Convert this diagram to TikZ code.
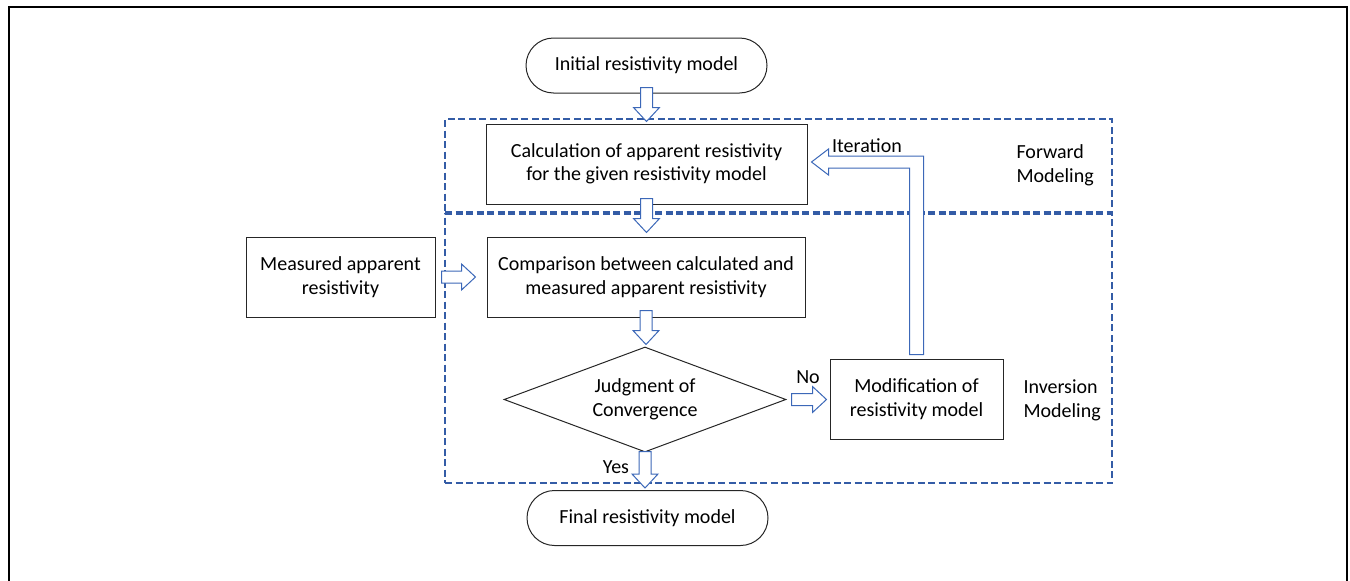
\documentclass[tikz,border=0pt]{standalone}
\usepackage{fontspec}
\setmainfont{Carlito}
\usetikzlibrary{shapes.geometric,shapes.misc,calc}
\definecolor{arrblue}{RGB}{60,104,184}
\definecolor{dashblue}{RGB}{52,92,166}
\tikzset{
  txt/.style={font=\fontsize{20}{23.5}\selectfont, align=center},
  procbox/.style={txt, draw=black!85, line width=1pt, rectangle, inner sep=0pt, minimum height=80pt},
  termbox/.style={txt, draw=black!85, line width=1pt, rounded rectangle, inner sep=0pt, minimum width=241pt, minimum height=55pt},
  decbox/.style={txt, draw=black!85, line width=1pt, diamond, inner sep=0pt, aspect=2.69, minimum width=282pt, minimum height=105pt},
  dashbox/.style={draw=dashblue, line width=1.1pt, dash pattern=on 7pt off 3.5pt},
  barrow/.style={draw=arrblue, fill=white, line width=1pt, line join=miter},
  lbl/.style={txt},
  sidelbl/.style={txt, align=left, anchor=west},
  frame/.style={draw=black, line width=2pt}
}
\newcommand\arrdn[2]{\draw[barrow] let \p1=(#1), \p2=(#2) in
  (\x1-6pt,\y1) -- (\x1+6pt,\y1) -- (\x1+6pt,\y2+14pt) -- (\x1+13pt,\y2+14pt) -- (\x1,\y2)
  -- (\x1-13pt,\y2+14pt) -- (\x1-6pt,\y2+14pt) -- cycle;}
\newcommand\arrrt[2]{\draw[barrow] let \p1=(#1), \p2=(#2) in
  (\x1,\y1+6pt) -- (\x2-14pt,\y1+6pt) -- (\x2-14pt,\y1+13pt) -- (\x2,\y1)
  -- (\x2-14pt,\y1-13pt) -- (\x2-14pt,\y1-6pt) -- (\x1,\y1-6pt) -- cycle;}
\begin{document}
\begin{tikzpicture}[x=1pt,y=-1pt]
\useasboundingbox (0,0) rectangle (1350,581);
% outer frame
\coordinate (fbl) at (9,581);
\coordinate (ftl) at (9,7);
\coordinate (ftr) at (1347,7);
\coordinate (fbr) at (1347,581);
\draw[frame] (fbl) -- (ftl) -- (ftr) -- (fbr);

% dashed regions
\node[dashbox, minimum width=667pt, minimum height=93pt, inner sep=0pt] (fwd) at (778.5,165.5) {};
\node[dashbox, minimum width=667pt, minimum height=269pt, inner sep=0pt] (inv) at (778.5,348.5) {};

% nodes
\node[termbox] (init) at (646.5,65.5) {Initial resistivity model};
\node[procbox, minimum width=321pt] (calc) at (646.5,164) {Calculation of apparent resistivity\\for the given resistivity model};
\node[procbox, minimum width=318pt] (comp) at (646,277) {Comparison between calculated and\\measured apparent resistivity};
\node[procbox, minimum width=189pt] (meas) at (340.5,277) {Measured apparent\\resistivity};
\node[decbox] (judge) at (645,399.5) {Judgment of\\Convergence};
\node[procbox, minimum width=173pt] (mod) at (916.5,399) {Modification of\\resistivity model};
\node[termbox] (final) at (647.5,518) {Final resistivity model};

% labels
\node[sidelbl] (fwdl) at (1013,165.5) {Forward\\Modeling};
\node[sidelbl] (invl) at (1020,400.5) {Inversion\\Modeling};
\node[lbl] (itl) at (867,146) {Iteration};
\node[lbl] (nol) at (808,377) {No};
\node[lbl] (yesl) at (616,467) {Yes};

% connector end points
\coordinate (a1s) at ($(init.south)+(0,-6)$);
\coordinate (a1e) at ($(calc.north)+(0,-2)$);
\coordinate (a2s) at ($(calc.south)+(0,-6)$);
\coordinate (a2e) at ($(comp.north)+(0,-4)$);
\coordinate (a3s) at ($(comp.south)+(0,-7)$);
\coordinate (a3e) at ($(judge.north)+(0,-2)$);
\coordinate (a4s) at ($(judge.south)+(0,-1)$);
\coordinate (a4e) at ($(final.north)+(0,-2)$);
\coordinate (a5s) at ($(meas.east)+(6,0)$);
\coordinate (a5e) at ($(comp.west)+(-11,0)$);
\coordinate (a6s) at ($(judge.east)+(5,0)$);
\coordinate (a6e) at ($(mod.west)+(-3,0)$);
\coordinate (itS) at ($(mod.north)+(0,-4)$);
\coordinate (itE) at ($(calc.east)+(4,-2)$);

% block arrows
\arrdn{a1s}{a1e}
\arrdn{a2s}{a2e}
\arrdn{a3s}{a3e}
\arrdn{a4s}{a4e}
\arrrt{a5s}{a5e}
\arrrt{a6s}{a6e}
\draw[barrow] let \p1=(itS), \p2=(itE) in
  (\x1-7pt,\y1) -- (\x1-7pt,\y2-6pt) -- (\x2+17pt,\y2-6pt) -- (\x2+17pt,\y2-13pt) -- (\x2,\y2)
  -- (\x2+17pt,\y2+13pt) -- (\x2+17pt,\y2+6pt) -- (\x1+7pt,\y2+6pt) -- (\x1+7pt,\y1) -- cycle;
\end{tikzpicture}
\end{document}
